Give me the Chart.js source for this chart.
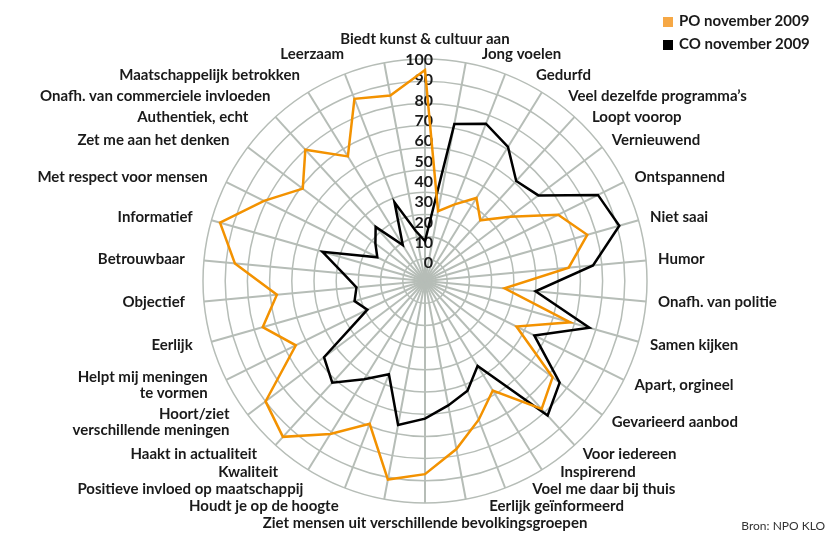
<!DOCTYPE html>
<html>
<head>
<meta charset="utf-8">
<script src="https://cdn.jsdelivr.net/npm/chart.js@4.4.1/dist/chart.umd.min.js"></script>
<style>
  body { margin: 0; background: #fff; font-family: Lato, sans-serif; }
  #wrap { position: relative; width: 835px; height: 538px; }
  #legend { position: absolute; left: 663px; top: 10px; font: bold 15px Lato, sans-serif; color: #1a1a1a; }
  #legend div { height: 23px; line-height: 20px; white-space: nowrap; }
  #legend span { display: inline-block; width: 10px; height: 10px; margin-right: 6px; vertical-align: -1px; }
  #bron { position: absolute; right: 10px; top: 518px; font: 12px Lato, sans-serif; color: #333; }
</style>
</head>
<body>
<div id="wrap">
  <canvas id="radar" width="835" height="538"></canvas>
  <div id="legend">
    <div><span style="background:#f6a845"></span>PO november 2009</div>
    <div><span style="background:#000"></span>CO november 2009</div>
  </div>
  <div id="bron">Bron: NPO KLO</div>
</div>
<script>
var categories = [
  'Biedt kunst & cultuur aan', 'Jong voelen', 'Gedurfd', 'Veel dezelfde programma\u2019s',
  'Loopt voorop', 'Vernieuwend', 'Ontspannend', 'Niet saai', 'Humor', 'Onafh. van politie',
  'Samen kijken', 'Apart, orgineel', 'Gevarieerd aanbod', 'Voor iedereen', 'Inspirerend',
  'Voel me daar bij thuis', 'Eerlijk ge\u00efnformeerd', 'Ziet mensen uit verschillende bevolkingsgroepen',
  'Houdt je op de hoogte', 'Positieve invloed op maatschappij', 'Kwaliteit', 'Haakt in actualiteit',
  ['Hoort/ziet', 'verschillende meningen'], ['Helpt mij meningen', 'te vormen'], 'Eerlijk',
  'Objectief', 'Betrouwbaar', 'Informatief', 'Met respect voor mensen', 'Zet me aan het denken',
  'Authentiek, echt', 'Onafh. van commerciele invloeden', 'Maatschappelijk betrokken', 'Leerzaam'
];
var poValues = [95, 32, 37, 44, 37, 48, 67, 76, 65, 36, 68, 46, 72, 78, 58, 67, 77, 87, 91, 69,
                81, 95, 90, 65, 76, 67, 86, 96, 81, 69, 80, 66, 88, 85];
var coValues = [18, 72, 76, 71, 61, 64, 87, 91, 76, 50, 77, 55, 76, 82, 45, 53, 57, 62, 66, 45,
                52, 62, 57, 29, 33, 31, 37, 48, 24, 28, 33, 19, 38, 23];
var tickValues = [0, 10, 20, 30, 40, 50, 60, 70, 80, 90, 100];
var tickLabels = ['0', '10', '20', '30', '40', '50', '60', '70', '80', '90', '100'];

var labelFont = 'bold 15px Lato, sans-serif';
var lineH = 16;

// tick numbers along the vertical axis, under the data lines
var tickPlugin = {
  id: 'tickText',
  beforeDatasetsDraw: function(chart) {
    var s = chart.scales.r, ctx = chart.ctx;
    var bottom = s.yCenter - 18, top = s.yCenter - s.drawingArea + 1;
    ctx.save();
    ctx.font = 'bold 16px Lato, sans-serif';
    ctx.fillStyle = '#1a1a1a';
    ctx.textAlign = 'right';
    ctx.textBaseline = 'middle';
    tickValues.forEach(function(v, i) {
      var f = s.getDistanceFromCenterForValue(v) / s.drawingArea;
      ctx.fillText(tickLabels[i], s.xCenter + 8, bottom - f * (bottom - top));
    });
    ctx.restore();
  }
};

// category labels round the outside, spread apart where they crowd
var pointLabelPlugin = {
  id: 'catText',
  afterDraw: function(chart) {
    var s = chart.scales.r, ctx = chart.ctx;
    var cx = s.xCenter, cy = s.yCenter, R = s.drawingArea;
    var n = categories.length;
    var items = categories.map(function(lab, i) {
      var lines = Array.isArray(lab) ? lab : [lab];
      var a = s.getIndexAngle(i);
      var p = s.getPointPosition(i, R + 12);
      var side = Math.sin(a) > 0.01 ? 1 : (Math.sin(a) < -0.01 ? -1 : 0);
      return { i: i, lines: lines, h: lines.length * lineH, y: p.y, side: side, up: Math.cos(a) > 0 };
    });
    var top = items[0], bot = items[n / 2];
    top.y = cy - R - 12 - lineH / 2;
    bot.y = cy + R + 12 + lineH / 2;

    [1, -1].forEach(function(side) {
      var list = items.filter(function(it) { return it.side === side; });
      list.sort(function(a, b) { return a.y - b.y; });
      var upper = list.filter(function(it) { return it.up; });
      var lower = list.filter(function(it) { return !it.up; }).reverse();
      var prev = top;
      upper.forEach(function(it) {
        var gap = prev === top ? 15 : (prev.h + it.h) / 2 + 5;
        it.y = Math.max(it.y, prev.y + gap);
        prev = it;
      });
      prev = bot;
      lower.forEach(function(it) {
        var gap = (prev.h + it.h) / 2 + 1;
        it.y = Math.min(it.y, prev.y - gap);
        prev = it;
      });
    });

    ctx.save();
    ctx.font = labelFont;
    ctx.fillStyle = '#1a1a1a';
    ctx.textBaseline = 'middle';
    items.forEach(function(it) {
      var x = cx, rr = it.side < 0 ? R + 19 : R + 12;
      var dy = it.y - cy;
      if (it.side !== 0) {
        x = cx + it.side * Math.sqrt(Math.max(0, rr * rr - dy * dy));
      }
      ctx.textAlign = it.side > 0 ? 'left' : (it.side < 0 ? 'right' : 'center');
      it.lines.forEach(function(t, k) {
        ctx.fillText(t, x, it.y - it.h / 2 + lineH / 2 + k * lineH);
      });
    });
    ctx.restore();
  }
};

var ctx = document.getElementById('radar');
var config = {
  type: 'radar',
  data: {
    labels: categories,
    datasets: [{
      label: 'PO november 2009',
      data: poValues,
      borderColor: '#f39200',
      borderWidth: 2.5,
      fill: false,
      pointRadius: 0,
      tension: 0
    }, {
      label: 'CO november 2009',
      data: coValues,
      borderColor: '#000000',
      borderWidth: 2.5,
      fill: false,
      pointRadius: 0,
      tension: 0
    }]
  },
  options: {
    responsive: false,
    animation: false,
    layout: { padding: { left: 15, right: 0, top: 59, bottom: 35 } },
    plugins: { legend: { display: false }, tooltip: { enabled: false } },
    scales: {
      r: {
        min: 0,
        max: 100,
        ticks: { display: false, stepSize: 10 },
        grid: { circular: true, color: '#b6bdb7', lineWidth: 1.5 },
        angleLines: { color: '#b6bdb7', lineWidth: 2 },
        pointLabels: { display: false }
      }
    }
  },
  plugins: [tickPlugin, pointLabelPlugin]
};
var myChart = new Chart(ctx, config);
</script>
</body>
</html>
